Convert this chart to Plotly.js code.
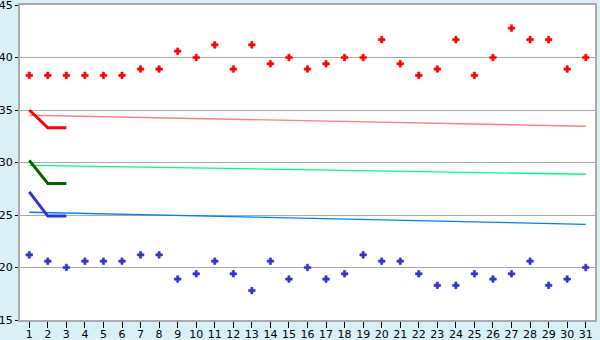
<!DOCTYPE html>
<html>
<head>
<meta charset="utf-8">
<script src="https://cdn.plot.ly/plotly-3.0.1.min.js"></script>
<style>
html,body{margin:0;padding:0;background:#d9f0f7;}
#chart{width:600px;height:340px;}
</style>
</head>
<body>
<div id="chart"></div>
<script>
// Days of the month
const days = [1,2,3,4,5,6,7,8,9,10,11,12,13,14,15,16,17,18,19,20,21,22,23,24,25,26,27,28,29,30,31];

// Daily highs (red markers)
const highs = [38.3,38.3,38.3,38.3,38.3,38.3,38.9,38.9,40.6,40.0,41.2,38.9,41.2,39.4,40.0,38.9,39.4,40.0,40.0,41.7,39.4,38.3,38.9,41.7,38.3,40.0,42.8,41.7,41.7,38.9,40.0];

// Daily lows (blue markers)
const lows = [21.2,20.6,20.0,20.6,20.6,20.6,21.2,21.2,18.9,19.4,20.6,19.4,17.8,20.6,18.9,20.0,18.9,19.4,21.2,20.6,20.6,19.4,18.3,18.3,19.4,18.9,19.4,20.6,18.3,18.9,20.0];

// Short thick lines over the first three days
const shortDays = [1,2,3];
const shortRed = [35.0,33.3,33.3];
const shortGreen = [30.2,28.0,28.0];
const shortBlue = [27.2,24.9,24.9];

// Thin trend lines across the month (endpoints)
const trendDays = [1,31];
const trendRed = [34.5,33.45];
const trendGreen = [29.73,28.88];
const trendBlue = [25.26,24.11];

// Axis ticks
const yTicks = [15,20,25,30,35,40,45];

const traces = [
  {x: trendDays, y: trendRed, mode:'lines', line:{color:'#ff8080', width:1.3}},
  {x: trendDays, y: trendGreen, mode:'lines', line:{color:'#00ff80', width:1.3}},
  {x: trendDays, y: trendBlue, mode:'lines', line:{color:'#0080ff', width:1.3}},
  {x: shortDays, y: shortRed, mode:'lines', line:{color:'#ff0000', width:3}},
  {x: shortDays, y: shortGreen, mode:'lines', line:{color:'#006400', width:3}},
  {x: shortDays, y: shortBlue, mode:'lines', line:{color:'#3333cc', width:3}},
  {x: days, y: highs, mode:'markers', marker:{symbol:'cross', size:5.5, color:'#ff0000', line:{width:0.6, color:'#ff0000'}}},
  {x: days, y: lows, mode:'markers', marker:{symbol:'cross', size:5.5, color:'#3333cc', line:{width:0.6, color:'#3333cc'}}}
];

const layout = {
  width:600, height:340,
  margin:{l:20, r:5, t:5, b:20, pad:0},
  paper_bgcolor:'#d9f0f7',
  plot_bgcolor:'#ffffff',
  showlegend:false,
  hovermode:false,
  font:{family:'DejaVu Sans, Verdana, sans-serif', size:11, color:'#000000'},
  xaxis:{
    range:[0.5,31.5],
    tickvals: days,
    ticktext: days.map(String),
    ticks:'outside', ticklen:6, tickcolor:'#000000', tickwidth:1,
    showgrid:false, zeroline:false,
    showline:true, linecolor:'#aaaaaa', linewidth:2, mirror:true,
    ticklabelstandoff:-3,
    ticklabeloverflow:'allow',
    fixedrange:true
  },
  yaxis:{
    range:[15,45],
    tickvals: yTicks,
    ticks:'outside', ticklen:3, tickcolor:'#000000', tickwidth:1,
    showgrid:true, gridcolor:'#aaaaaa', gridwidth:1,
    zeroline:false,
    showline:true, linecolor:'#aaaaaa', linewidth:2, mirror:true,
    ticklabelstandoff:0,
    ticklabeloverflow:'allow',
    fixedrange:true
  }
};

Plotly.newPlot('chart', traces, layout, {staticPlot:true, displayModeBar:false});
</script>
</body>
</html>
